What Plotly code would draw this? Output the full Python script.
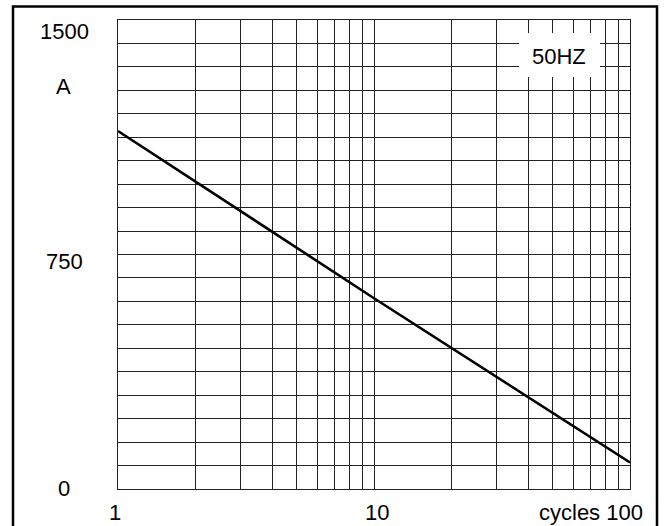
import plotly.graph_objects as go

# Data
cycles = [1, 10, 100]
current_a = [1145, 610, 85]

y_tick_labels = ["0", "750", "1500"]
x_tick_labels = ["1", "10"]
x_tick_values = [1, 10]

W, H = 668, 526
ML, MR, MT, MB = 118, 38, 20, 37
PW, PH = W - ML - MR, H - MT - MB


def px_x(p):
    return (p - ML) / PW


def px_y(p):
    return (H - MB - p) / PH


FONT = dict(family="Liberation Sans, Arial, sans-serif", size=22, color="black")

grid_x = [m * 10 ** e for e in (0, 1) for m in range(1, 10)] + [100]

fig = go.Figure()
fig.add_trace(go.Scatter(x=cycles, y=current_a, mode="lines",
                         line=dict(color="black", width=2.6),
                         showlegend=False, hoverinfo="skip"))

fig.update_xaxes(type="log", range=[0, 2], tickvals=grid_x, showticklabels=False,
                 showgrid=True, gridcolor="#222", gridwidth=1, ticks="",
                 showline=True, mirror=True, linecolor="#222", linewidth=1, zeroline=False)
fig.update_yaxes(range=[0, 1500], dtick=75, tick0=0, showticklabels=False,
                 showgrid=True, gridcolor="#222", gridwidth=1, ticks="",
                 showline=True, mirror=True, linecolor="#222", linewidth=1, zeroline=False)

ann = []
# y labels (pixel centres)
y_label_px = [488.5, 261.7, 32]
for lab, py in zip(y_tick_labels, y_label_px):
    ann.append(dict(text=lab, xref="paper", yref="paper", x=px_x(64), y=px_y(py),
                    xanchor="center", yanchor="middle", showarrow=False, font=FONT))
ann.append(dict(text="A", xref="paper", yref="paper", x=px_x(63.5), y=px_y(86),
                xanchor="center", yanchor="middle", showarrow=False, font=FONT))
# x labels
x_shift = [-3, 3]
for lab, xv, s in zip(x_tick_labels, x_tick_values, x_shift):
    ann.append(dict(text=lab, xref="x", yref="paper", x=0 if xv == 1 else 1, y=px_y(512),
                    xanchor="center", yanchor="middle", xshift=s, showarrow=False, font=FONT))
ann.append(dict(text="cycles 100", xref="paper", yref="paper", x=px_x(645), y=px_y(512),
                xanchor="right", yanchor="middle", showarrow=False, font=FONT))
ann.append(dict(text="50HZ", xref="paper", yref="paper", x=px_x(559), y=px_y(57),
                xanchor="center", yanchor="middle", showarrow=False, font=FONT))

shapes = [
    # white box behind 50HZ label
    dict(type="rect", xref="paper", yref="paper", x0=px_x(519), x1=px_x(600),
         y0=px_y(77), y1=px_y(33), fillcolor="white", line=dict(width=0), layer="above"),
    # outer frame
    dict(type="rect", xref="paper", yref="paper", x0=px_x(13), x1=px_x(657),
         y0=px_y(540), y1=px_y(6.5), line=dict(color="black", width=2.5), layer="above"),
]

fig.update_layout(width=W, height=H, margin=dict(l=ML, r=MR, t=MT, b=MB),
                  paper_bgcolor="white", plot_bgcolor="white",
                  annotations=ann, shapes=shapes, showlegend=False)

fig.write_html("out.html", config={"displayModeBar": False, "staticPlot": True},
               post_script="document.body.style.margin='0';document.body.style.overflow='hidden';")
